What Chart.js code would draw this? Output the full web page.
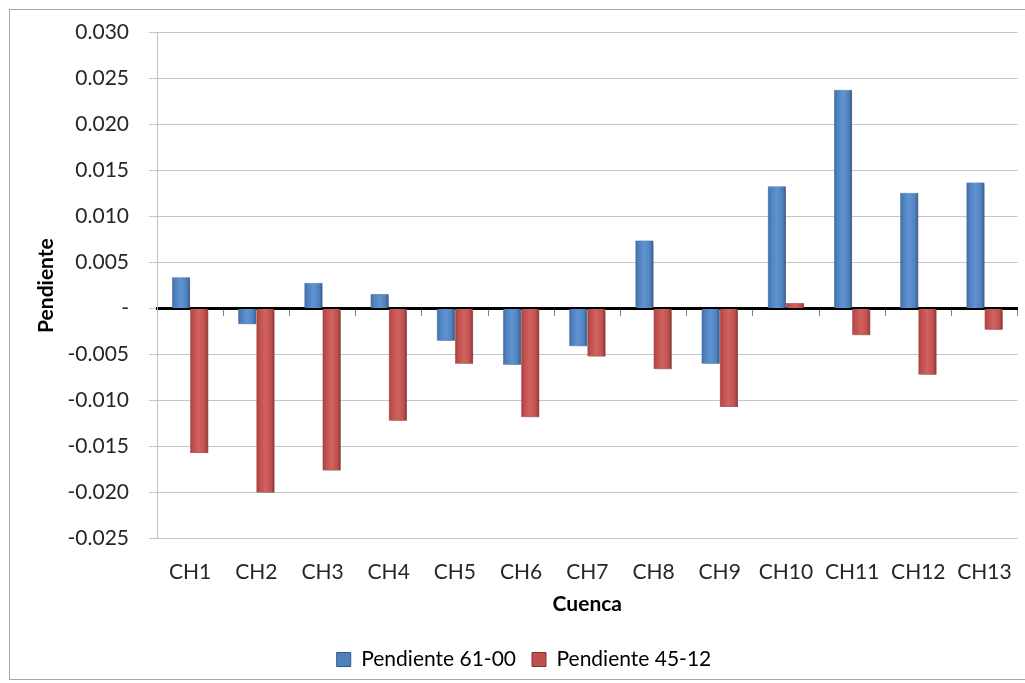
<!DOCTYPE html>
<html>
<head>
<meta charset="utf-8">
<script src="https://cdn.jsdelivr.net/npm/chart.js@4.4.0/dist/chart.umd.min.js"></script>
<style>
  html, body { margin: 0; padding: 0; background: #fff; }
  #wrap { position: relative; width: 1025px; height: 683px; }
  #frame { position: absolute; left: 9px; top: 9px; width: 1030px; height: 671px; border: 1.5px solid #a6a6a6; box-sizing: border-box; }
  canvas { position: absolute; left: 0; top: 0; }
</style>
</head>
<body>
<div id="wrap">
  <div id="frame"></div>
  <canvas id="c" width="1025" height="683"></canvas>
</div>
<script>
// ============ DATA ============
const cuencas = ['CH1','CH2','CH3','CH4','CH5','CH6','CH7','CH8','CH9','CH10','CH11','CH12','CH13'];
const pend6100 = [0.0034,-0.0017,0.0028,0.0016,-0.0035,-0.0061,-0.0041,0.0074,-0.0060,0.0133,0.0238,0.0126,0.0137];
const pend4512 = [-0.0157,-0.0200,-0.0176,-0.0122,-0.0060,-0.0118,-0.0052,-0.0066,-0.0107,0.0006,-0.0029,-0.0072,-0.0023];
const seriesNames = ['Pendiente 61-00','Pendiente 45-12'];

const FONT = 'Lato, Calibri, Carlito, sans-serif';
const FS = 21;
const CAT_PCT = 0.55;

// horizontal bevel gradient for each bar, built from the x scale
function bevel(ctx, dsIndex, cols) {
  const chart = ctx.chart;
  const xs = chart.scales.x;
  if (!xs || ctx.dataIndex === undefined) return cols[1];
  const cw = (xs.right - xs.left) / cuencas.length;
  const bw = cw * CAT_PCT / 2;
  const cx = xs.getPixelForValue(ctx.dataIndex);
  const x0 = dsIndex === 0 ? cx - bw : cx;
  const g = chart.ctx.createLinearGradient(x0, 0, x0 + bw, 0);
  g.addColorStop(0, cols[0]);
  g.addColorStop(0.18, cols[1]);
  g.addColorStop(0.5, cols[2]);
  g.addColorStop(0.82, cols[1]);
  g.addColorStop(1, cols[3]);
  return g;
}
const blueCols = ['#3d6aa3','#4f81bd','#5f93d2','#2f5687'];
const redCols = ['#a23e3b','#c0504d','#d0625f','#8a2f2d'];

const shadowPlugin = {
  id: 'shadow',
  beforeDatasetsDraw(chart) {
    const c = chart.ctx;
    c.save();
    c.shadowColor = 'rgba(0,0,0,0.35)';
    c.shadowBlur = 4;
    c.shadowOffsetX = 3;
    c.shadowOffsetY = 2;
  },
  afterDatasetsDraw(chart) { chart.ctx.restore(); }
};

new Chart(document.getElementById('c'), {
  type: 'bar',
  data: {
    labels: cuencas,
    datasets: [
      { label: seriesNames[0], data: pend6100, backgroundColor: c => bevel(c, 0, blueCols), borderColor: '#2f5687', borderWidth: 0.5,
        categoryPercentage: CAT_PCT, barPercentage: 1 },
      { label: seriesNames[1], data: pend4512, backgroundColor: c => bevel(c, 1, redCols), borderColor: '#8a2f2d', borderWidth: 0.5,
        categoryPercentage: CAT_PCT, barPercentage: 1 }
    ]
  },
  options: {
    responsive: false,
    animation: false,
    layout: { padding: { left: 30, right: 7, top: 21, bottom: 3 } },
    plugins: {
      tooltip: { enabled: false },
      legend: {
        position: 'bottom',
        labels: {
          color: '#262626', font: { family: FONT, size: FS }, boxWidth: 14, boxHeight: 14, padding: 16,
          generateLabels: ch => seriesNames.map((n, i) => ({
            text: n, fillStyle: i === 0 ? '#4f81bd' : '#c0504d', strokeStyle: i === 0 ? '#2f5687' : '#8a2f2d',
            lineWidth: 1, datasetIndex: i
          }))
        }
      }
    },
    scales: {
      x: {
        grid: { display: false },
        border: { display: false },
        ticks: { color: '#262626', font: { family: FONT, size: FS }, padding: 13 },
        title: { display: true, text: 'Cuenca', color: '#000', font: { family: FONT, size: FS, weight: 'bold' }, padding: { top: -6, bottom: 16 } }
      },
      x0: {
        type: 'category',
        labels: cuencas,
        position: { y: 0 },
        grid: { drawOnChartArea: false, drawTicks: true, tickLength: 6, color: '#7f7f7f', offset: true },
        border: { display: true, color: '#000', width: 3 },
        ticks: { display: false }
      },
      y: {
        min: -0.025, max: 0.030,
        grid: { color: '#c6c6c6', lineWidth: 1, tickLength: 8 },
        border: { color: '#bfbfbf' },
        ticks: {
          stepSize: 0.005, color: '#262626', font: { family: FONT, size: FS }, padding: 20,
          callback: v => Math.abs(v) < 1e-9 ? '-' : v.toFixed(3)
        },
        title: { display: true, text: 'Pendiente', color: '#000', font: { family: FONT, size: FS, weight: 'bold' }, padding: { bottom: 22 } },
        afterFit: s => { s.width = 127; }
      }
    }
  },
  plugins: [shadowPlugin]
});
</script>
</body>
</html>
